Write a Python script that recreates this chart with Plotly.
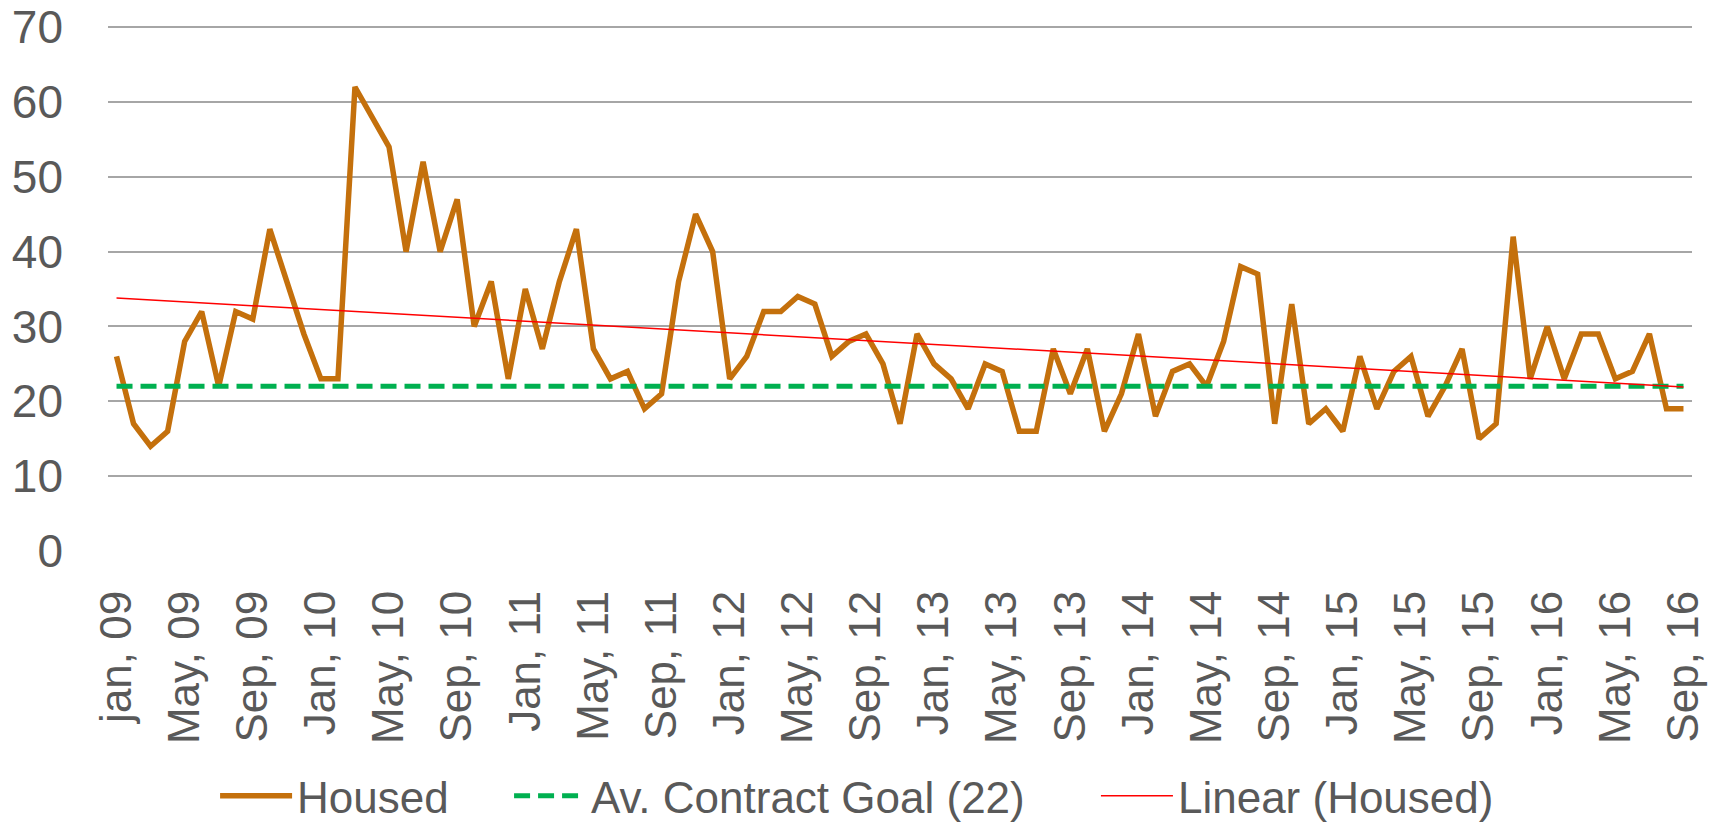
import numpy as np
import plotly.graph_objects as go

# ---- data ----
month_names = ["Jan", "Feb", "Mar", "Apr", "May", "Jun", "Jul", "Aug", "Sep", "Oct", "Nov", "Dec"]
years = [2009, 2010, 2011, 2012, 2013, 2014, 2015, 2016]
months = [f"{m} {y}" for y in years for m in month_names][:93]  # Jan 2009 .. Sep 2016

housed = [
    26, 17, 14, 16, 28, 32, 22, 32, 31, 43, 36, 29,   # 2009
    23, 23, 62, 58, 54, 40, 52, 40, 47, 30, 36, 23,   # 2010
    35, 27, 36, 43, 27, 23, 24, 19, 21, 36, 45, 40,   # 2011
    23, 26, 32, 32, 34, 33, 26, 28, 29, 25, 17, 29,   # 2012
    25, 23, 19, 25, 24, 16, 16, 27, 21, 27, 16, 21,   # 2013
    29, 18, 24, 25, 22, 28, 38, 37, 17, 33, 17, 19,   # 2014
    16, 26, 19, 24, 26, 18, 22, 27, 15, 17, 42, 23,   # 2015
    30, 23, 29, 29, 23, 24, 29, 19, 19,               # 2016 (Jan-Sep)
]
goal_value = 22
goal = [goal_value] * len(housed)

tick_index = list(range(0, 93, 4))
tick_labels = [
    "jan, 09", "May, 09", "Sep, 09",
    "Jan, 10", "May, 10", "Sep, 10",
    "Jan, 11", "May, 11", "Sep, 11",
    "Jan, 12", "May, 12", "Sep, 12",
    "Jan, 13", "May, 13", "Sep, 13",
    "Jan, 14", "May, 14", "Sep, 14",
    "Jan, 15", "May, 15", "Sep, 15",
    "Jan, 16", "May, 16", "Sep, 16",
]

# linear trendline (Excel "Linear (Housed)")
idx = np.arange(len(housed))
slope, intercept = np.polyfit(idx, housed, 1)
trend = list(intercept + slope * idx)

# ---- figure ----
TEXT = "#595959"
FONT = "Liberation Sans, Arial, sans-serif"

fig = go.Figure()
fig.add_trace(go.Scatter(
    x=months, y=housed, mode="lines", name="Housed", legend="legend",
    line=dict(color="#C4700C", width=5.5),
))
fig.add_trace(go.Scatter(
    x=months, y=goal, mode="lines", name="Av. Contract Goal (22)", legend="legend2",
    line=dict(color="#00B050", width=5, dash="16px,8px"),
))
fig.add_trace(go.Scatter(
    x=months, y=trend, mode="lines", name="Linear (Housed)", legend="legend3",
    line=dict(color="#FF0000", width=1.5),
))

LEG_Y = -0.467


def leg(xpos):
    return dict(
        orientation="h", x=xpos, xanchor="left", y=LEG_Y, yanchor="middle",
        font=dict(size=44, color=TEXT, family=FONT),
        itemwidth=72, bgcolor="rgba(0,0,0,0)",
    )


# the page body has an 8px margin, so the figure is sized to fill the rest of the window
fig.update_layout(
    width=1719, height=814,
    margin=dict(l=100, r=35, t=18, b=271, autoexpand=False),
    paper_bgcolor="white", plot_bgcolor="white",
    font=dict(family=FONT, color=TEXT),
    showlegend=True,
    legend=leg(0.0676),
    legend2=leg(0.2532),
    legend3=leg(0.6237),
    xaxis=dict(
        type="category", categoryorder="array", categoryarray=months,
        range=[-0.5, len(months) - 0.5],
        tickmode="array", tickvals=[months[i] for i in tick_index], ticktext=tick_labels,
        tickangle=-90, tickfont=dict(size=44, color=TEXT, family=FONT),
        showgrid=False, showline=False, zeroline=False, ticks="",
        ticklabelstandoff=30, automargin=False, ticklabeloverflow="allow",
    ),
    yaxis=dict(
        range=[0, 70.15], tickmode="array", tickvals=[0, 10, 20, 30, 40, 50, 60, 70],
        tickfont=dict(size=46, color=TEXT, family=FONT),
        showgrid=True, gridcolor="#A6A6A6", gridwidth=1.5,
        zeroline=False, showline=False, ticks="",
        ticklabelstandoff=44, automargin=False, ticklabeloverflow="allow",
    ),
)

fig.write_html("out.html")
